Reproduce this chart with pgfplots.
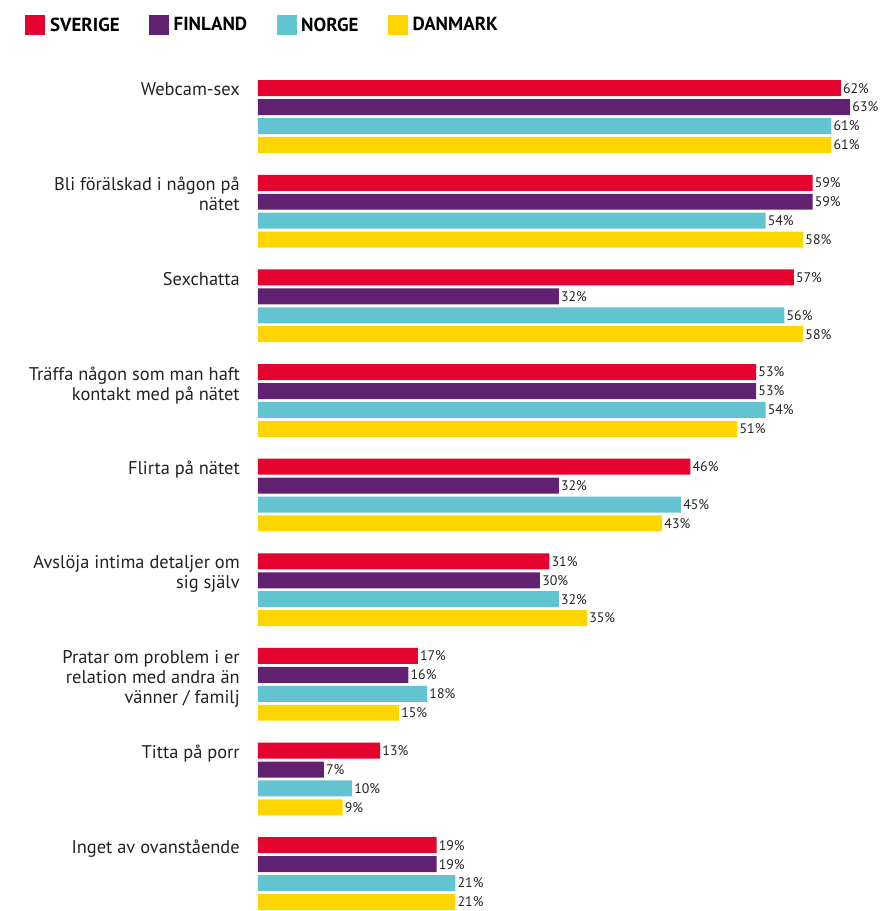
\documentclass[border=0pt]{standalone}
\usepackage{pgfplots}
\pgfplotsset{compat=1.18}
\usepackage{fontspec}
\setmainfont{PT Sans}
\definecolor{cSE}{HTML}{E4032E}
\definecolor{cFI}{HTML}{5F2170}
\definecolor{cNO}{HTML}{62C3D1}
\definecolor{cDK}{HTML}{FFD500}
\definecolor{txt}{HTML}{222222}
\pgfplotstableread{
g se fi no dk
0 62 63 61 61
-1 59 59 54 58
-2 57 32 56 58
-3 53 53 54 51
-4 46 32 45 43
-5 31 30 32 35
-6 17 16 18 15
-7 13 7 10 9
-8 19 19 21 21
}\data
\begin{document}
\begin{tikzpicture}
\begin{axis}[
  name=ax,
  scale only axis,
  width=458.25pt, height=627.75pt,
  xbar, bar width=0.169,
  xmin=0, xmax=65,
  ymin=-8.395, ymax=0.45,
  axis line style={draw=none},
  major tick length=0pt,
  xtick=\empty,
  ytick={0.3,-0.7,-1.7,-2.7,-3.7,-4.7,-5.7,-6.7,-7.7},
  yticklabels={Webcam-sex,
    {Bli förälskad i någon på\\nätet},
    Sexchatta,
    {Träffa någon som man haft\\kontakt med på nätet},
    Flirta på nätet,
    {Avslöja intima detaljer om\\sig själv},
    {Pratar om problem i er\\relation med andra än\\vänner / familj},
    Titta på porr,
    Inget av ovanstående},
  yticklabel style={align=right, anchor=north east, inner sep=0pt,
    xshift=-13.5pt, yshift=4.3pt, font=\fontsize{13.8}{15}\selectfont, text=txt},
  clip=false,
  nodes near coords={\pgfmathprintnumber{\pgfplotspointmeta}\%},
  nodes near coords style={font=\fontsize{10.4}{12}\selectfont, text=txt, anchor=west, inner sep=1.5pt},
  point meta=explicit,
  /pgf/number format/assume math mode=true,
  legend columns=4,
  legend style={draw=none, at={(axis description cs:-0.381,1.071)}, anchor=north west,
    font=\fontsize{14.2}{15}\bfseries\selectfont, text=black, inner sep=0pt,
    /tikz/every odd column/.append style={column sep=1.5pt},
    /tikz/every even column/.append style={column sep=20pt}},
  legend image code/.code={\fill[#1] (0pt,-7.5pt) rectangle (15pt,7.5pt);},
]
\addplot[draw=none, fill=cSE, bar shift=0.3] table[x=se, y=g, meta=se] {\data};
\addplot[draw=none, fill=cFI, bar shift=0.1] table[x=fi, y=g, meta=fi] {\data};
\addplot[draw=none, fill=cNO, bar shift=-0.1] table[x=no, y=g, meta=no] {\data};
\addplot[draw=none, fill=cDK, bar shift=-0.3] table[x=dk, y=g, meta=dk] {\data};
\legend{SVERIGE, FINLAND, NORGE, DANMARK}
\end{axis}
\pgfresetboundingbox
\path[use as bounding box] ([xshift=-193.5pt]ax.south west) rectangle ([xshift=465.75pt, yshift=683.25pt]ax.south west);
\end{tikzpicture}
\end{document}
